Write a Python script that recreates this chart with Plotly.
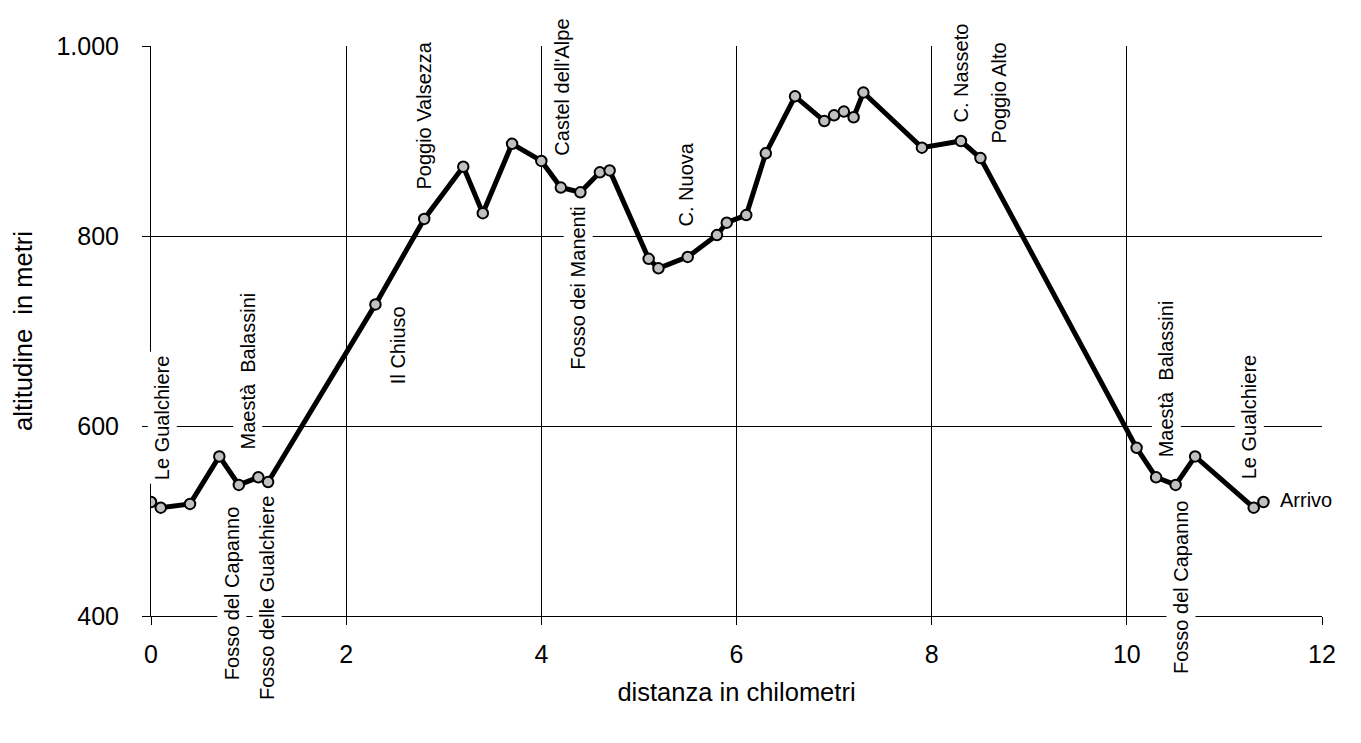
import plotly.graph_objects as go

# --- data ---
distance_km = [0.0, 0.1, 0.4, 0.7, 0.9, 1.1, 1.2, 2.3, 2.8, 3.2, 3.4, 3.7, 4.0, 4.2, 4.4,
               4.6, 4.7, 5.1, 5.2, 5.5, 5.8, 5.9, 6.1, 6.3, 6.6, 6.9, 7.0, 7.1, 7.2, 7.3,
               7.9, 8.3, 8.5, 10.1, 10.3, 10.5, 10.7, 11.3, 11.4]
altitude_m = [520, 514, 518, 568, 538, 546, 541, 728, 818, 873, 824, 897, 879, 851, 846,
              867, 869, 776, 766, 778, 801, 814, 822, 887, 947, 921, 927, 931, 925, 951,
              893, 900, 882, 577, 546, 538, 568, 514, 520]

place_names = ["Le Gualchiere", "Maestà\u00a0 Balassini", "Fosso del Capanno",
               "Fosso delle Gualchiere", "Il Chiuso", "Poggio Valsezza", "Castel dell'Alpe",
               "Fosso dei Manenti", "C. Nuova", "C. Nasseto", "Poggio Alto",
               "Maestà\u00a0 Balassini", "Fosso del Capanno", "Le Gualchiere", "Arrivo"]
place_x = [0.12, 0.99, 0.83, 1.19, 2.53, 2.80, 4.21, 4.38, 5.48, 8.30, 8.68, 10.40, 10.55, 11.25, 11.84]
place_y = [609, 658, 424, 419, 685, 927, 957, 745, 854, 972, 950, 650, 430, 610, 522]
place_angle = [-90] * 14 + [0]

x_ticks = [0, 2, 4, 6, 8, 10, 12]
y_ticks = [400, 600, 800, 1000]
y_tick_text = ["400", "600", "800", "1.000"]

FONT = "Liberation Sans, Arial, sans-serif"

fig = go.Figure()
fig.add_trace(go.Scatter(
    x=distance_km, y=altitude_m, mode="lines+markers",
    line=dict(color="black", width=5),
    marker=dict(size=10.5, color="#c0c0c0", line=dict(color="black", width=2)),
    showlegend=False, hoverinfo="x+y",
))

for name, xv, yv, ang in zip(place_names, place_x, place_y, place_angle):
    fig.add_annotation(
        x=xv, y=yv, xref="x", yref="y", text=name, showarrow=False,
        textangle=ang, xanchor="center", yanchor="middle",
        bgcolor="white", borderpad=3,
        font=dict(family=FONT, size=20, color="black"),
    )

fig.update_layout(
    width=1345, height=727,
    margin=dict(l=143, r=31, t=38, b=119),
    paper_bgcolor="white", plot_bgcolor="white",
    font=dict(family=FONT, color="black"),
    xaxis=dict(
        range=[0, 12], tickvals=x_ticks, ticktext=[str(v) for v in x_ticks],
        showgrid=True, gridcolor="black", gridwidth=1,
        showline=True, linecolor="black", linewidth=1,
        ticks="outside", ticklen=8, tickcolor="black", tickwidth=1,
        zeroline=False, tickfont=dict(family=FONT, size=25, color="black"),
        ticklabelstandoff=8,
        title=dict(text="distanza in chilometri", standoff=16,
                   font=dict(family=FONT, size=25.5, color="black")),
    ),
    yaxis=dict(
        range=[400, 1000], tickvals=y_ticks, ticktext=y_tick_text,
        showgrid=True, gridcolor="black", gridwidth=1,
        showline=True, linecolor="black", linewidth=1,
        ticks="outside", ticklen=8, tickcolor="black", tickwidth=1,
        zeroline=False, tickfont=dict(family=FONT, size=25, color="black"),
        ticklabelstandoff=18,
        title=dict(text="altitudine\u00a0 in metri", standoff=16,
                   font=dict(family=FONT, size=25.5, color="black")),
    ),
)

fig.write_html("out.html")
